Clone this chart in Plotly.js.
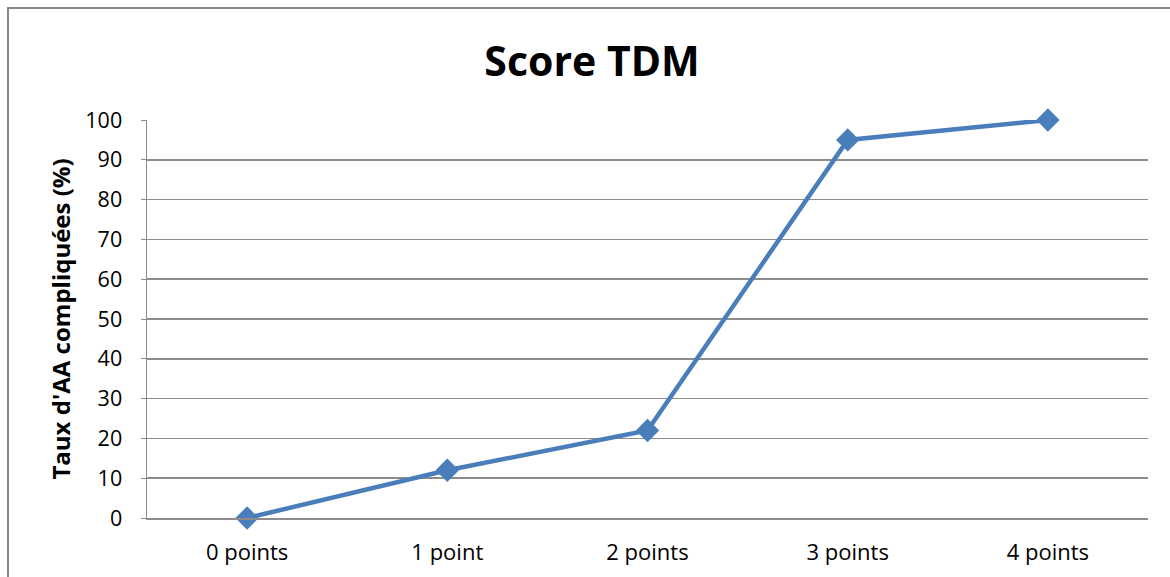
<!DOCTYPE html>
<html>
<head>
<meta charset="utf-8">
<script src="https://cdn.plot.ly/plotly-3.0.1.min.js"></script>
<style>
html,body{margin:0;padding:0;background:#fff;}
#wrap{position:relative;width:1170px;height:577px;overflow:hidden;}
#frame{position:absolute;left:7px;top:7px;width:1200px;height:600px;border-left:2px solid #888;border-top:2px solid #888;pointer-events:none;}
#chart{position:absolute;left:0;top:0;width:1170px;height:577px;}
</style>
</head>
<body>
<div id="wrap">
<div id="chart"></div>
<div id="frame"></div>
</div>
<script>
const categories = ["0 points", "1 point", "2 points", "3 points", "4 points"];
const values = [0, 12, 22, 95, 100];
const yTicks = [0, 10, 20, 30, 40, 50, 60, 70, 80, 90, 100];

const fontFam = "Open Sans, Liberation Sans, sans-serif";

const trace = {
  x: categories,
  y: values,
  type: "scatter",
  mode: "lines+markers",
  line: {color: "#4a7ebb", width: 4.5},
  marker: {symbol: "diamond", size: 18, color: "#4a7ebb"},
  showlegend: false,
  cliponaxis: false
};

const layout = {
  width: 1170,
  height: 577,
  margin: {l: 147, r: 22, t: 120, b: 59},
  paper_bgcolor: "#fff",
  plot_bgcolor: "#fff",
  title: {
    text: "<b>Score TDM</b>",
    font: {family: fontFam, size: 41, color: "#000"},
    x: 0.506, xanchor: "center",
    y: 0.893, yanchor: "middle"
  },
  xaxis: {
    type: "category",
    tickfont: {family: fontFam, size: 22, color: "#000"},
    showgrid: false,
    showline: true,
    linecolor: "#8c8c8c",
    linewidth: 1.5,
    ticks: "",
    ticklabelstandoff: 14,
    range: [-0.5, 4.5],
    fixedrange: true
  },
  yaxis: {
    range: [0, 100],
    tickvals: yTicks,
    ticktext: yTicks.map(String),
    tickfont: {family: fontFam, size: 21.5, color: "#000"},
    showgrid: true,
    gridcolor: "#8c8c8c",
    gridwidth: 1.5,
    zeroline: false,
    showline: true,
    linecolor: "#8c8c8c",
    linewidth: 1.5,
    ticks: "outside",
    ticklen: 5,
    tickcolor: "#8c8c8c",
    ticklabelstandoff: 14,
    title: {
      text: "<b>Taux d'AA compliquées (%)</b>",
      font: {family: fontFam, size: 24, color: "#000"},
      standoff: 8
    },
    fixedrange: true
  }
};

Plotly.newPlot("chart", [trace], layout, {displayModeBar: false, staticPlot: true});
</script>
</body>
</html>
